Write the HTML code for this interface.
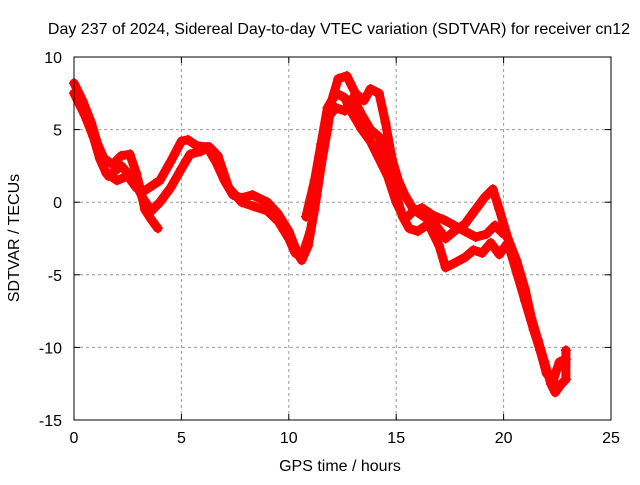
<!DOCTYPE html>
<html><head><meta charset="utf-8"><style>
body{margin:0;background:#fff}
svg{font-family:"Liberation Sans",sans-serif;font-size:16px}
</style></head><body>
<svg id="chart" width="640" height="480" viewBox="0 0 640 480">
<rect width="640" height="480" fill="#fff"/>
<text x="339" y="34" text-anchor="middle">Day 237 of 2024, Sidereal Day-to-day VTEC variation (SDTVAR) for receiver cn12</text>
<g id="grid"></g>
<g id="series"></g>
<rect x="74" y="57" width="537" height="363" fill="none" stroke="#000" stroke-width="1"/>
<g id="ticks"></g>
<text x="340" y="471" text-anchor="middle">GPS time / hours</text>
<text transform="translate(19,238) rotate(-90)" text-anchor="middle">SDTVAR / TECUs</text>
</svg>
<script>
const xTicks=[0,5,10,15,20,25];
const yTicks=[10,5,0,-5,-10,-15];
const s1=[[0,8.2],[0.4,7],[0.8,5.5],[1.1,4],[1.4,3],[1.8,2.6],[2.2,3.2],[2.6,3.3],[2.9,2],[3.1,0.8],[3.3,-0.5],[3.6,-1.2],[3.9,-1.8]];
const s2=[[0,7.5],[0.5,6],[0.9,4.5],[1.2,3],[1.5,2],[2,1.5],[2.5,1.8],[2.9,1],[3.3,0.8],[3.7,1.2],[4,1.5],[4.5,2.8],[5,4.2],[5.3,4.3],[5.7,3.9],[6.2,3.8],[6.6,2.8],[7,1.5],[7.4,0.5],[7.8,0.3],[8.3,0.5],[9,0],[9.5,-0.8],[10,-2],[10.4,-3.5],[10.6,-4],[10.9,-3],[11.2,-0.5],[11.5,2.5],[11.8,5],[12,7],[12.3,8.5],[12.7,8.7],[13.1,7.5],[13.5,7],[13.8,7.8],[14.2,7.5],[14.5,5.5],[14.8,3],[15.1,1.5],[15.4,0.5],[15.8,-0.5],[16.3,-1],[16.8,-1.5],[17.3,-2.5],[17.7,-2],[18.2,-1.5],[18.7,-0.5],[19.1,0.3],[19.5,0.9],[19.8,-0.5],[20.2,-2.5],[20.6,-4],[21,-6],[21.3,-8],[21.6,-9.5],[21.9,-11],[22.2,-12.5],[22.4,-13.1],[22.7,-12.5],[22.9,-12.2],[22.9,-10.2]];
const s3=[[1.6,1.8],[2.2,2.5],[2.8,1.5],[3.2,0.3],[3.6,-0.6],[4,0],[4.5,1],[5,2.3],[5.4,3.3],[5.9,3.5],[6.3,3.8],[6.7,3.2],[7.2,1],[7.8,0],[8.4,-0.3],[9,-0.6],[9.5,-1.3],[10,-2.5],[10.3,-3.5],[10.6,-3.8],[11,-2],[11.3,0.5],[11.6,3.5],[11.9,6],[12.2,6.5],[12.6,6.3],[13,7.2],[13.4,6],[13.8,5],[14.2,4.5],[14.6,2.5],[15,0.5],[15.3,-1],[15.6,-1.8],[16,-2],[16.5,-1.5],[17,-3],[17.3,-4.5],[17.7,-4.2],[18.2,-3.8],[18.6,-3.3],[19,-3.5],[19.4,-2.8],[19.8,-3.6],[20.2,-2.8],[20.6,-4.8],[21,-6.8],[21.4,-8.8],[21.7,-10.2],[22,-11.8],[22.3,-12.3],[22.6,-11],[22.9,-10.8]];
const s4=[[10.8,-1],[11.2,1.5],[11.5,4],[11.8,6.5],[12.2,7.5],[12.6,7.2],[13,6],[13.4,5],[13.8,4.2],[14.2,3],[14.6,1.8],[15,0],[15.4,-1.2],[15.8,-0.6],[16.2,-0.4],[16.7,-0.9],[17.2,-1.2],[17.7,-1.6],[18.2,-2],[18.7,-2.4],[19.2,-2.2],[19.6,-1.6],[20,-2.2]];
const allSeries=[s1,s2,s3,s4];
const X=t=>74+t*537/25, Y=v=>57+(10-v)*363/25;
const NS="http://www.w3.org/2000/svg";
const grid=document.getElementById('grid'),ticks=document.getElementById('ticks'),ser=document.getElementById('series');
function mk(tag,attrs,parent){const e=document.createElementNS(NS,tag);for(const k in attrs)e.setAttribute(k,attrs[k]);parent.appendChild(e);return e;}
xTicks.forEach(t=>{
  if(t>0&&t<25){const g=mk('line',{x1:X(t),x2:X(t),y1:57,y2:420,stroke:'#999','stroke-dasharray':'3,3'},grid);
  
  }
  mk('line',{x1:X(t),x2:X(t),y1:420,y2:414,stroke:'#000'},ticks);
  mk('line',{x1:X(t),x2:X(t),y1:57,y2:63,stroke:'#000'},ticks);
  const l=mk('text',{x:X(t),y:443,'text-anchor':'middle'},ticks);l.textContent=t;
  
  
});
yTicks.forEach(v=>{
  if(v>-15&&v<10){const g=mk('line',{x1:74,x2:611,y1:Y(v),y2:Y(v),stroke:'#999','stroke-dasharray':'3,3'},grid);
  
  }
  mk('line',{x1:74,x2:80,y1:Y(v),y2:Y(v),stroke:'#000'},ticks);
  mk('line',{x1:605,x2:611,y1:Y(v),y2:Y(v),stroke:'#000'},ticks);
  const l=mk('text',{x:62,y:Y(v)+6,'text-anchor':'end'},ticks);l.textContent=v;
  
  
});
allSeries.forEach((s,i)=>{
  const p=mk('polyline',{points:s.map(d=>X(d[0])+','+Y(d[1])).join(' '),fill:'none',stroke:'#f00','stroke-width':9,'stroke-linejoin':'round','stroke-linecap':'round'},ser);
  
  
  s.forEach(d=>{
    const m=mk('path',{d:`M${X(d[0])-5},${Y(d[1])}h10M${X(d[0])},${Y(d[1])-5}v10`,stroke:'#f00','stroke-width':1.5},ser);
    
    
  });
});
</script>
</body></html>
